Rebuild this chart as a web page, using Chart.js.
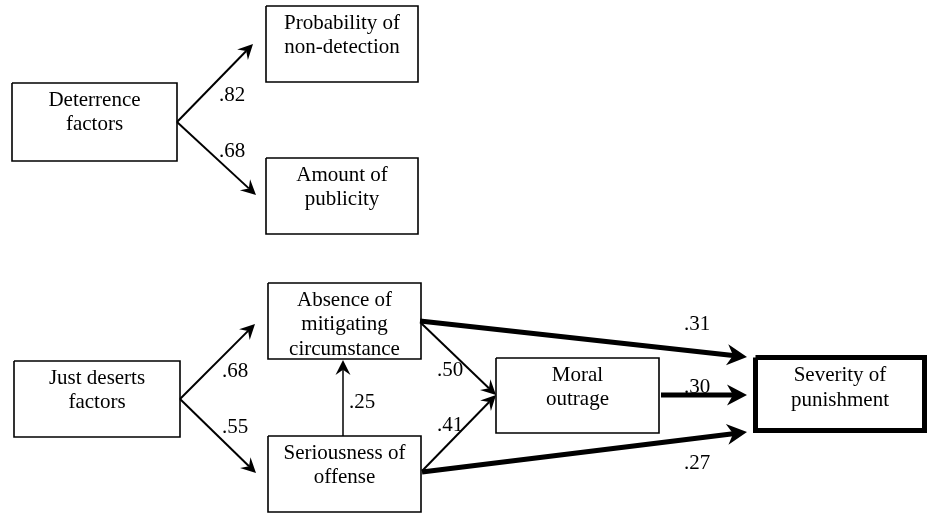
<!DOCTYPE html>
<html>
<head>
<meta charset="utf-8">
<script src="https://cdn.jsdelivr.net/npm/chart.js@4"></script>
<style>
  html, body { margin: 0; padding: 0; background: #fff; }
  #wrap { width: 929px; height: 514px; }
</style>
</head>
<body>
<div id="wrap"><canvas id="pathChart" width="929" height="514"></canvas></div>
<script>
// node labels (one entry per box, lines split by \n)
const nodeLabels = [
  "Deterrence\nfactors",
  "Probability of\nnon-detection",
  "Amount of\npublicity",
  "Just deserts\nfactors",
  "Absence of\nmitigating\ncircumstance",
  "Seriousness of\noffense",
  "Moral\noutrage",
  "Severity of\npunishment"
];
// box corners in diagram units [x0, y0, x1, y1]
const nodeBoxes = [
  [12, 83, 177, 161],
  [266, 6, 418, 82],
  [266, 158, 418, 234],
  [14, 361, 180, 437],
  [268, 283, 421, 359],
  [268, 436, 421, 512],
  [496, 358, 659, 433],
  [755.5, 357.5, 924.5, 430.5]
];
const nodeBold = [false, false, false, false, false, false, false, true];

// path coefficients
const pathCoefs = [".82", ".68", ".68", ".55", ".25", ".50", ".41", ".31", ".30", ".27"];
// arrow start / end points [x0, y0, x1, y1]
const pathEnds = [
  [177, 122, 253, 44],
  [177, 122, 256, 195],
  [180, 399, 255, 324],
  [180, 399, 256, 473],
  [343, 436, 343, 360],
  [421, 323, 496, 395],
  [422, 471, 496, 395],
  [420, 321, 747, 357],
  [661, 395, 747, 395],
  [422, 472, 747, 432]
];
const pathThick = [false, false, false, false, false, false, false, true, true, true];
// where each coefficient is written
const coefPos = [
  [232, 95], [232, 151], [235, 371], [235, 427], [362, 402],
  [450, 370], [450, 425], [697, 324], [697, 387], [697, 463]
];

const FONT = "21px 'Liberation Serif', 'Times New Roman', serif";

const datasets = [];
nodeBoxes.forEach((b, i) => {
  datasets.push({
    data: [
      { x: b[0], y: b[1] }, { x: b[2], y: b[1] }, { x: b[2], y: b[3] },
      { x: b[0], y: b[3] }, { x: b[0], y: b[1] }
    ],
    showLine: true,
    borderColor: "#000",
    borderWidth: nodeBold[i] ? 5 : 1.6,
    borderJoinStyle: "miter",
    pointRadius: 0,
    fill: false,
    tension: 0
  });
});

// shaft stops a bit before the tip so the head stays pointed
function headSize(thick) {
  return thick ? { len: 20, half: 10.5, notch: 0.7 } : { len: 15, half: 7.5, notch: 0.65 };
}
pathEnds.forEach((p, i) => {
  const dx = p[2] - p[0], dy = p[3] - p[1];
  const d = Math.hypot(dx, dy);
  const h = headSize(pathThick[i]);
  const cut = h.len * h.notch;
  datasets.push({
    data: [
      { x: p[0], y: p[1] },
      { x: p[2] - dx / d * cut, y: p[3] - dy / d * cut }
    ],
    showLine: true,
    borderColor: "#000",
    borderWidth: pathThick[i] ? 5 : (i === 4 ? 1.5 : 2),
    borderCapStyle: "butt",
    pointRadius: 0,
    fill: false,
    tension: 0
  });
});

// arrowheads + text on top of the datasets
const diagramText = {
  id: "diagramText",
  afterDatasetsDraw(chart) {
    const ctx = chart.ctx;
    const xs = chart.scales.x, ys = chart.scales.y;
    ctx.save();
    ctx.fillStyle = "#000";

    pathEnds.forEach((p, i) => {
      const x0 = xs.getPixelForValue(p[0]), y0 = ys.getPixelForValue(p[1]);
      const x1 = xs.getPixelForValue(p[2]), y1 = ys.getPixelForValue(p[3]);
      const d = Math.hypot(x1 - x0, y1 - y0);
      const ux = (x1 - x0) / d, uy = (y1 - y0) / d;
      const nx = -uy, ny = ux;
      const h = headSize(pathThick[i]);
      ctx.beginPath();
      ctx.moveTo(x1, y1);
      ctx.lineTo(x1 - ux * h.len + nx * h.half, y1 - uy * h.len + ny * h.half);
      ctx.lineTo(x1 - ux * h.len * h.notch, y1 - uy * h.len * h.notch);
      ctx.lineTo(x1 - ux * h.len - nx * h.half, y1 - uy * h.len - ny * h.half);
      ctx.closePath();
      ctx.fill();
    });

    ctx.font = FONT;
    ctx.textAlign = "center";
    ctx.textBaseline = "middle";
    nodeLabels.forEach((lbl, i) => {
      const b = nodeBoxes[i];
      const cx = xs.getPixelForValue((b[0] + b[2]) / 2);
      const top = ys.getPixelForValue(b[1]);
      lbl.split("\n").forEach((line, k) => {
        ctx.fillText(line, cx, top + (nodeBold[i] ? 18 : 17) + k * 24.5);
      });
    });

    pathCoefs.forEach((c, i) => {
      ctx.fillText(c, xs.getPixelForValue(coefPos[i][0]), ys.getPixelForValue(coefPos[i][1]));
    });
    ctx.restore();
  }
};

new Chart(document.getElementById("pathChart"), {
  type: "scatter",
  data: { datasets: datasets },
  options: {
    responsive: false,
    animation: false,
    layout: { padding: 0 },
    plugins: { legend: { display: false }, tooltip: { enabled: false } },
    scales: {
      x: { type: "linear", min: 0, max: 929, display: false },
      y: { type: "linear", min: 0, max: 514, reverse: true, display: false }
    }
  },
  plugins: [diagramText]
});
</script>
</body>
</html>
